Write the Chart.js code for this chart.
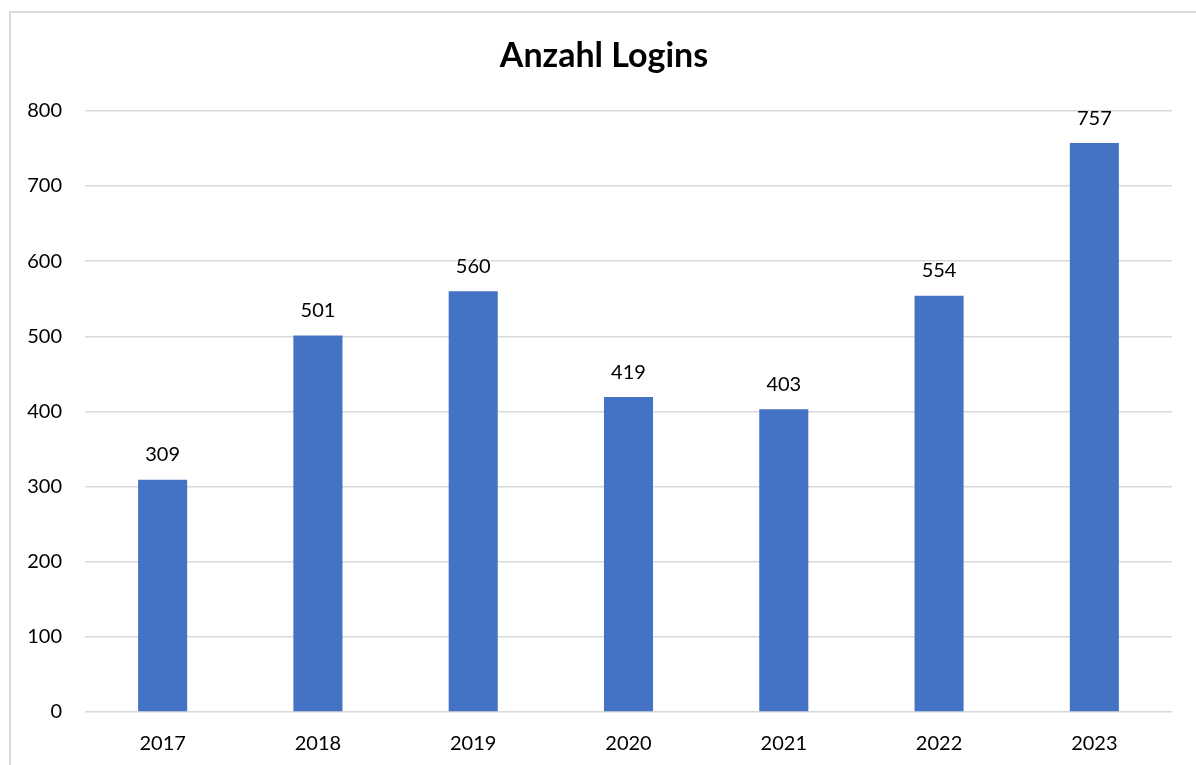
<!DOCTYPE html>
<html>
<head>
<meta charset="utf-8">
<script src="https://cdn.jsdelivr.net/npm/chart.js@4/dist/chart.umd.min.js"></script>
<style>
    html, body { margin: 0; padding: 0; background: #fff; overflow: hidden; }
    #frame {
        position: absolute; left: 9px; top: 11px; width: 1300px; height: 900px;
        border-left: 2px solid #d9d9d9; border-top: 2px solid #d9d9d9;
    }
    #chart { position: absolute; left: 0; top: 0; }
</style>
</head>
<body>
<div id="frame"></div>
<canvas id="chart" width="1196" height="765"></canvas>
<script>
const years = ['2017', '2018', '2019', '2020', '2021', '2022', '2023'];
const logins = [309, 501, 560, 419, 403, 554, 757];
const yMax = 800;
const yStep = 100;

const BarColor = '#4472C4';
const GridColor = '#d9d9d9';
const FontFamily = 'Lato, "Noto Sans", sans-serif';

// draws the value above each bar
const valueLabels = {
    id: 'valueLabels',
    afterDatasetsDraw(chart) {
        const ctx = chart.ctx;
        ctx.save();
        ctx.font = `20px ${FontFamily}`;
        ctx.fillStyle = '#000';
        ctx.textAlign = 'center';
        ctx.textBaseline = 'middle';
        chart.getDatasetMeta(0).data.forEach((bar, i) => {
            ctx.fillText(String(logins[i]), bar.x, bar.y - 25);
        });
        ctx.restore();
    }
};

// title is centred on the whole frame, not on the canvas minus right padding
const titleShift = {
    id: 'titleShift',
    afterLayout(chart) {
        if (chart.titleBlock) chart.titleBlock.left = 36;
    }
};

new Chart(document.getElementById('chart'), {
    type: 'bar',
    data: {
        labels: years,
        datasets: [{
            data: logins,
            backgroundColor: BarColor,
            categoryPercentage: 1,
            barPercentage: 0.316
        }]
    },
    options: {
        responsive: false,
        animation: false,
        layout: { padding: { left: 0, right: 24, top: 0, bottom: 0 } },
        scales: {
            x: {
                grid: { display: false },
                border: { display: false },
                ticks: {
                    color: '#000',
                    padding: 12,
                    font: { family: FontFamily, size: 20 }
                },
                afterFit: function(scale) { scale.height = 53; }
            },
            y: {
                min: 0,
                max: yMax,
                grid: { color: GridColor, lineWidth: 1.5, drawTicks: false },
                border: { display: false },
                ticks: {
                    stepSize: yStep,
                    color: '#000',
                    padding: 23,
                    font: { family: FontFamily, size: 20 }
                },
                afterFit: function(scale) { scale.width = 85; }
            }
        },
        plugins: {
            legend: { display: false },
            tooltip: { enabled: false },
            title: {
                display: true,
                text: 'Anzahl Logins',
                color: '#000',
                font: { family: FontFamily, size: 34, weight: 'bold', lineHeight: 1.2 },
                padding: { top: 36, bottom: 34 }
            }
        }
    },
    plugins: [valueLabels, titleShift]
});
</script>
</body>
</html>
